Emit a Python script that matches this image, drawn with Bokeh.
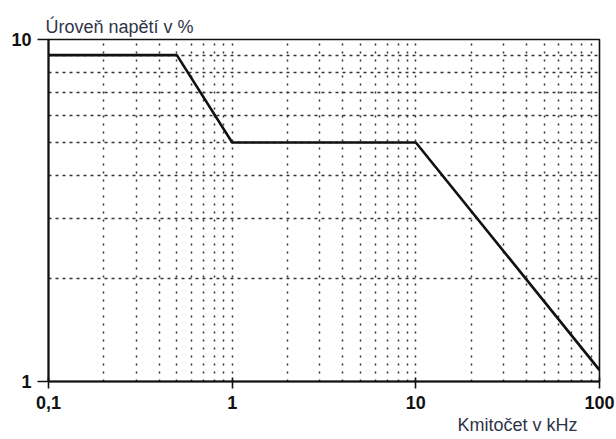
from bokeh.plotting import figure
from bokeh.models import FixedTicker, Range1d, Title
from bokeh.embed import file_html
from bokeh.resources import INLINE

# data
freq_khz = [0.1, 0.5, 1, 10, 100]
level_pct = [9, 9, 5, 5, 1.08]
x_ticks = [0.1, 1, 10, 100]
x_tick_labels = ["0,1", "1", "10", "100"]
y_ticks = [1, 10]
y_tick_labels = ["1", "10"]
y_title = "Úroveň napětí v %"
x_title = "Kmitočet v kHz"

x_minor = [m * d for d in x_ticks[:-1] for m in range(2, 10)]
y_minor = [m * d for d in y_ticks[:-1] for m in range(2, 10)]

FONT = "Liberation Sans"

p = figure(x_axis_type="log", y_axis_type="log",
           x_range=Range1d(0.1, 100), y_range=Range1d(1, 10),
           frame_width=551, frame_height=342,
           min_border_left=48, min_border_right=17,
           min_border_top=39, min_border_bottom=0,
           output_backend="svg", toolbar_location=None,
           background_fill_color="white", border_fill_color="white")

p.title.text = y_title
p.title.align = "left"
p.title.offset = -3
p.title.standoff = 6
p.title.text_font = FONT
p.title.text_font_size = "18px"
p.title.text_font_style = "normal"
p.title.text_color = "#2e3448"

p.add_layout(Title(text=x_title, align="right", offset=22, standoff=3,
                   text_font=FONT, text_font_size="18px",
                   text_font_style="normal", text_color="#2e3448"), "below")

p.outline_line_color = "#111111"
p.outline_line_width = 1.6

p.xaxis.ticker = FixedTicker(ticks=x_ticks, minor_ticks=x_minor)
p.yaxis.ticker = FixedTicker(ticks=y_ticks, minor_ticks=y_minor)
p.xaxis.major_label_overrides = {t: l for t, l in zip(x_ticks, x_tick_labels)}
p.yaxis.major_label_overrides = {t: l for t, l in zip(y_ticks, y_tick_labels)}

for ax in (p.xaxis, p.yaxis):
    ax.axis_line_color = "#111111"
    ax.axis_line_width = 2
    ax.major_tick_line_color = "#111111"
    ax.major_tick_line_width = 1.6
    ax.minor_tick_line_color = None
    ax.major_label_text_font = FONT
    ax.major_label_text_font_style = "bold"
    ax.major_label_text_font_size = "18px"
    ax.major_label_text_color = "#111111"

p.xaxis.major_tick_out = 7
p.xaxis.major_tick_in = 4
p.xaxis.major_label_standoff = 7
p.yaxis.major_tick_out = 11
p.yaxis.major_tick_in = 0
p.yaxis.major_label_standoff = 6

# grids
p.xgrid.grid_line_color = "#333333"
p.xgrid.grid_line_width = 1.5
p.xgrid.grid_line_dash = "2 6"
p.xgrid.minor_grid_line_color = "#333333"
p.xgrid.minor_grid_line_width = 1.5
p.xgrid.minor_grid_line_dash = "2 6"

p.ygrid.grid_line_color = None
p.ygrid.minor_grid_line_color = "#333333"
p.ygrid.minor_grid_line_width = 1.5
p.ygrid.minor_grid_line_dash = "3 4"

p.line(freq_khz, level_pct, line_color="#111111", line_width=2.6)

open("out.html", "w").write(file_html(p, INLINE))
